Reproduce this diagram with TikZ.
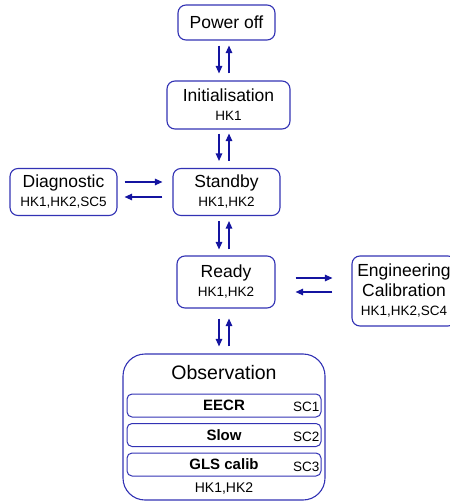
\documentclass[tikz,border=0pt]{standalone}
\usepackage{fontspec}
\setmainfont{Liberation Sans}
\usetikzlibrary{calc,arrows.meta}
\definecolor{boxc}{RGB}{50,50,180}
\definecolor{arrc}{RGB}{20,20,160}
\newcommand{\fsz}[1]{\fontsize{#1}{#1}\selectfont}
\begin{document}
\begin{tikzpicture}[x=1pt,y=-1pt,
  box/.style={draw=boxc,line width=1.1pt,rounded corners=8pt,inner sep=0pt,align=center,text=black,font=\fontsize{13.5}{19}\selectfont},
  subbox/.style={draw=boxc,line width=1pt,rounded corners=5pt,minimum width=194pt,minimum height=23pt,inner sep=0pt,font=\bfseries\fsz{15}},
  sclab/.style={anchor=east,inner sep=0pt,font=\fsz{13.5}},
  arr/.style={draw=arrc,line width=1.2pt,-{Triangle[length=7.5pt,width=6.5pt]}}]
\useasboundingbox (0,0) rectangle (449,502);
\coordinate (cl) at (219,0);
\coordinate (cr) at (229,0);
\coordinate (h1) at (0,182);
\coordinate (h2) at (0,197);
\coordinate (h3) at (0,278);
\coordinate (h4) at (0,292);
% boxes
\node[box,minimum width=97pt,minimum height=35pt] (pw) at (226.5,22.5) {\fsz{17.5}Power off};
\node[box,minimum width=123pt,minimum height=48pt] (init) at (228.5,105)
  {{\fsz{17.5}Initialisation}\\HK1};
\node[box,minimum width=107pt,minimum height=47pt] (stby) at (226.5,192)
  {{\fsz{17.5}Standby}\\HK1,HK2};
\node[box,minimum width=107pt,minimum height=47pt] (diag) at (63.5,192)
  {{\fsz{17.5}Diagnostic}\\HK1,HK2,SC5};
\node[box,minimum width=98pt,minimum height=52pt] (ready) at (226,282)
  {{\fsz{17.5}Ready}\\HK1,HK2};
\node[box,minimum width=104pt,minimum height=70pt,font=\fontsize{13.5}{19.5}\selectfont] (eng) at (404,291)
  {{\fsz{17.5}Engineering}\\{\fsz{17.5}Calibration}\\HK1,HK2,SC4};
% observation
\node[draw=boxc,line width=1.1pt,rounded corners=22pt,minimum width=202pt,minimum height=146pt,inner sep=0pt] (obs) at (224,427) {};
\node[inner sep=0pt,font=\fsz{19.5}] (obst) at (224,373) {Observation};
\node[subbox] (s1) at (224,405.5) {EECR};
\node[subbox] (s2) at (224,435) {Slow};
\node[subbox] (s3) at (224,464.5) {GLS calib};
\node[sclab] (sc1) at ($(s1.east)+(-2,1.5)$) {SC1};
\node[sclab] (sc2) at ($(s2.east)+(-2,1.5)$) {SC2};
\node[sclab] (sc3) at ($(s3.east)+(-2,2)$) {SC3};
\node[inner sep=0pt,font=\fsz{14}] (obshk) at (224,489) {HK1,HK2};
% vertical arrows
\draw[arr] ($(pw.south -| cl)+(0,5)$) -- ($(init.north -| cl)+(0,-7)$);
\draw[arr] ($(init.north -| cr)+(0,-7)$) -- ($(pw.south -| cr)+(0,5)$);
\draw[arr] ($(init.south -| cl)+(0,4)$) -- ($(stby.north -| cl)+(0,-7)$);
\draw[arr] ($(stby.north -| cr)+(0,-7)$) -- ($(init.south -| cr)+(0,4)$);
\draw[arr] ($(stby.south -| cl)+(0,5)$) -- ($(ready.north -| cl)+(0,-6)$);
\draw[arr] ($(ready.north -| cr)+(0,-6)$) -- ($(stby.south -| cr)+(0,5)$);
\draw[arr] ($(ready.south -| cl)+(0,10)$) -- ($(obs.north -| cl)+(0,-7)$);
\draw[arr] ($(obs.north -| cr)+(0,-7)$) -- ($(ready.south -| cr)+(0,10)$);
% horizontal arrows
\draw[arr] ($(diag.east |- h1)+(7,0)$) -- ($(stby.west |- h1)+(-10,0)$);
\draw[arr] ($(stby.west |- h2)+(-10,0)$) -- ($(diag.east |- h2)+(7,0)$);
\draw[arr] ($(ready.east |- h3)+(20,0)$) -- ($(eng.west |- h3)+(-19,0)$);
\draw[arr] ($(eng.west |- h4)+(-19,0)$) -- ($(ready.east |- h4)+(20,0)$);
\end{tikzpicture}
\end{document}
